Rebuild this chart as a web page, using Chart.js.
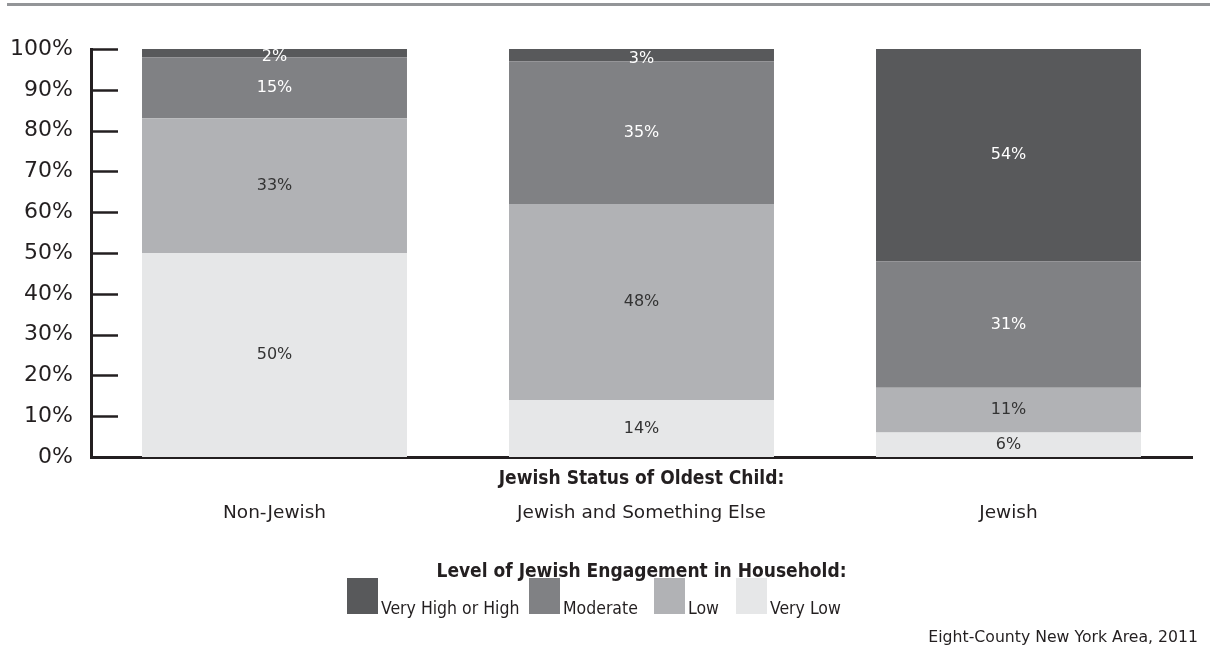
<!DOCTYPE html>
<html>
<head>
<meta charset="utf-8">
<script src="https://cdn.jsdelivr.net/npm/chart.js@4"></script>
<style>
  html, body { margin: 0; padding: 0; background: #fff; }
  #wrap { width: 1210px; height: 650px; position: relative; }
</style>
</head>
<body>
<div id="wrap"><canvas id="chart" width="1210" height="650"></canvas></div>
<script>
// categories along the x axis
var categories = ['Non-Jewish', 'Jewish and Something Else', 'Jewish'];

// engagement levels, bottom of stack first
var seriesNames = ['Very Low', 'Low', 'Moderate', 'Very High or High'];
var veryLow = [50, 14, 6];
var low = [33, 48, 11];
var moderate = [15, 35, 31];
var veryHigh = [2, 3, 54];

var seriesColors = ['#e6e7e8', '#b1b2b5', '#808184', '#58595b'];
var labelColors = ['#333333', '#333333', '#ffffff', '#ffffff'];

var yTicks = [0, 10, 20, 30, 40, 50, 60, 70, 80, 90, 100];

var xTitle = 'Jewish Status of Oldest Child:';
var legendTitle = 'Level of Jewish Engagement in Household:';
var sourceNote = 'Eight-County New York Area, 2011';

var textColor = '#231f20';
var axisColor = '#231f20';
var fontFace = '"DejaVu Sans", sans-serif';
var narrowFace = '"DejaVu Sans Condensed", sans-serif';
var boldFace = '"DejaVu Sans Condensed", "DejaVu Sans", sans-serif';

var allSeries = [veryLow, low, moderate, veryHigh];
var datasets = allSeries.map(function (vals, i) {
  return {
    label: seriesNames[i],
    data: vals,
    backgroundColor: seriesColors[i],
    borderWidth: 0,
    barPercentage: 0.722,
    categoryPercentage: 1.0
  };
});

// draws data labels, y ticks (inside), titles, legend and footer
var extrasPlugin = {
  id: 'extras',
  afterDatasetsDraw: function (chart) {
    var ctx = chart.ctx;
    var yScale = chart.scales.y;
    var xScale = chart.scales.x;
    var area = chart.chartArea;

    ctx.save();
    // segment labels
    ctx.font = '16px ' + fontFace;
    ctx.textAlign = 'center';
    ctx.textBaseline = 'middle';
    categories.forEach(function (c, ci) {
      var base = 0;
      allSeries.forEach(function (vals, si) {
        var v = vals[ci];
        var top = Math.min(base + v, 100);
        var mid = (base + top) / 2;
        var x = xScale.getPixelForValue(ci);
        var y = yScale.getPixelForValue(mid);
        if (top - base < 4) y += 4;
        ctx.fillStyle = labelColors[si];
        ctx.fillText(v + '%', x, y);
        base += v;
      });
    });

    // tick marks pointing into the plot
    ctx.strokeStyle = axisColor;
    ctx.lineWidth = 2.5;
    yTicks.forEach(function (t) {
      var y = Math.round(yScale.getPixelForValue(t)) + 0.5;
      ctx.beginPath();
      ctx.moveTo(area.left, y);
      ctx.lineTo(area.left + 27, y);
      ctx.stroke();
    });
    ctx.restore();
  },
  afterDraw: function (chart) {
    var ctx = chart.ctx;
    var xScale = chart.scales.x;
    ctx.save();

    // grey rule at the very top
    ctx.fillStyle = '#939598';
    ctx.fillRect(7, 3, 1203, 3);

    // x axis title above the category labels
    ctx.fillStyle = textColor;
    ctx.textAlign = 'center';
    ctx.textBaseline = 'middle';
    ctx.font = 'bold 19px ' + boldFace;
    var midX = xScale.getPixelForValue(1);
    ctx.fillText(xTitle, midX, 479);

    // legend title
    ctx.fillText(legendTitle, midX, 572);

    // legend entries, darkest first
    var boxX = [347, 529, 654, 736];
    ctx.font = '17.5px ' + narrowFace;
    ctx.textAlign = 'left';
    ctx.textBaseline = 'alphabetic';
    for (var k = 0; k < 4; k++) {
      var si = 3 - k;
      ctx.fillStyle = seriesColors[si];
      ctx.fillRect(boxX[k], 578, 31, 36);
      ctx.fillStyle = textColor;
      ctx.fillText(seriesNames[si], boxX[k] + 34, 614);
    }

    // source note
    ctx.font = '15.7px ' + fontFace;
    ctx.textAlign = 'right';
    ctx.fillText(sourceNote, 1198, 642);
    ctx.restore();
  }
};

var ctx = document.getElementById('chart').getContext('2d');
var myChart = new Chart(ctx, {
  type: 'bar',
  data: { labels: categories, datasets: datasets },
  options: {
    responsive: false,
    animation: false,
    layout: { padding: { top: 49, right: 18, left: 0, bottom: 0 } },
    plugins: {
      legend: { display: false },
      tooltip: { enabled: false }
    },
    scales: {
      x: {
        stacked: true,
        grid: { display: false, drawTicks: false },
        border: { display: true, color: axisColor, width: 3 },
        ticks: {
          color: textColor,
          font: { family: fontFace, size: 18.5 },
          padding: 45
        },
        afterFit: function (scale) { scale.height = 193; }
      },
      y: {
        stacked: true,
        min: 0,
        max: 100,
        afterBuildTicks: function (scale) {
          scale.ticks = yTicks.map(function (v) { return { value: v }; });
        },
        grid: { display: false, drawTicks: false },
        border: { display: true, color: axisColor, width: 3 },
        ticks: {
          color: textColor,
          font: { family: fontFace, size: 22 },
          padding: 18,
          callback: function (v) { return v + '%'; }
        },
        afterFit: function (scale) { scale.width = 91; }
      }
    }
  },
  plugins: [extrasPlugin]
});
</script>
</body>
</html>
